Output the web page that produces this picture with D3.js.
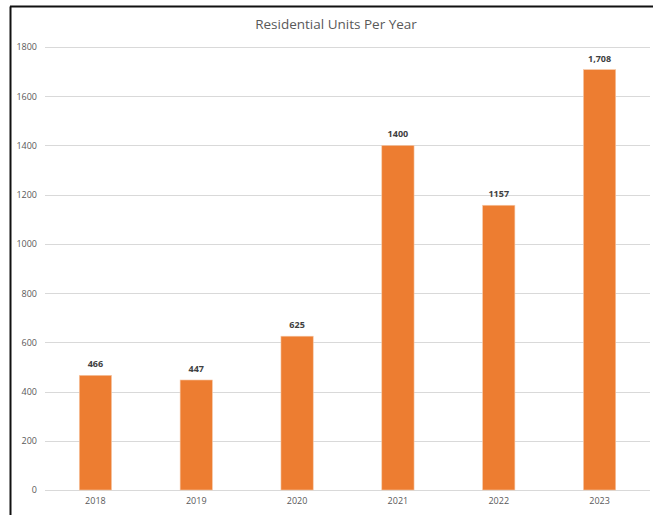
<!DOCTYPE html>
<html><head><meta charset="utf-8">
<script src="https://cdn.jsdelivr.net/npm/d3@7"></script>
<style>body{margin:0;background:#fff}svg{display:block}</style>
</head><body>
<script>
const categories = ["2018","2019","2020","2021","2022","2023"];
const values = [466, 447, 625, 1400, 1157, 1708];
const valueLabels = ["466","447","625","1400","1157","1,708"];
const yTicks = [0,200,400,600,800,1000,1200,1400,1600,1800];
const title = "Residential Units Per Year";

(function(){
const W = 653, H = 515;
const svg = d3.select("body").append("svg").attr("width", W).attr("height", H);
const font = "'Open Sans', 'Liberation Sans', sans-serif";

// frame
svg.append("line").attr("x1",10.5).attr("x2",10.5).attr("y1",6.5).attr("y2",H).attr("stroke","#111").attr("stroke-width",2);
svg.append("line").attr("x1",10).attr("x2",W).attr("y1",6.5).attr("y2",6.5).attr("stroke","#111").attr("stroke-width",2);

const mLeft = 45, mRight = 650, mTop = 47, mBottom = 490;
const x = d3.scaleBand().domain(categories).range([mLeft, mRight]).paddingInner(0.68).paddingOuter(0.34);
const y = d3.scaleLinear().domain([0,1800]).range([mBottom, mTop]);

// grid
svg.append("g").selectAll("line").data(yTicks).join("line")
  .attr("x1", mLeft).attr("x2", mRight)
  .attr("y1", d => Math.round(y(d))+0.5).attr("y2", d => Math.round(y(d))+0.5)
  .attr("stroke", "#d9d9d9").attr("stroke-width", 1);

// y labels
const yAxis = d3.axisLeft(y).tickValues(yTicks).tickSize(0).tickPadding(0).tickFormat(d3.format("d"));
const gy = svg.append("g").attr("transform", `translate(37,0)`).call(yAxis);
gy.select(".domain").remove();
gy.selectAll("text").attr("font-family", font).attr("font-size", 9).attr("fill", "#595959");

// x labels
const xAxis = d3.axisBottom(x).tickSize(0).tickPadding(0);
const gx = svg.append("g").attr("transform", `translate(0,${mBottom+8})`).call(xAxis);
gx.select(".domain").remove();
gx.selectAll("text").attr("font-family", font).attr("font-size", 9).attr("fill", "#595959");

// bars
svg.append("g").selectAll("rect").data(values).join("rect")
  .attr("x", (d,i) => x(categories[i])).attr("width", x.bandwidth())
  .attr("y", d => y(d)).attr("height", d => mBottom - y(d))
  .attr("fill", "#ED7D31").attr("stroke", "#f6c9a8").attr("stroke-width", 0.6);

// value labels
svg.append("g").selectAll("text").data(values).join("text")
  .attr("x", (d,i) => x(categories[i]) + x.bandwidth()/2)
  .attr("y", d => y(d) - 8)
  .attr("text-anchor", "middle").attr("font-family", font).attr("font-size", 9)
  .attr("font-weight", "bold").attr("fill", "#404040")
  .text((d,i) => valueLabels[i]);

// title
svg.append("text").attr("x", 336).attr("y", 29).attr("text-anchor", "middle")
  .attr("font-family", font).attr("font-size", 13.5).attr("fill", "#595959").text(title);
})();
</script>
</body></html>
